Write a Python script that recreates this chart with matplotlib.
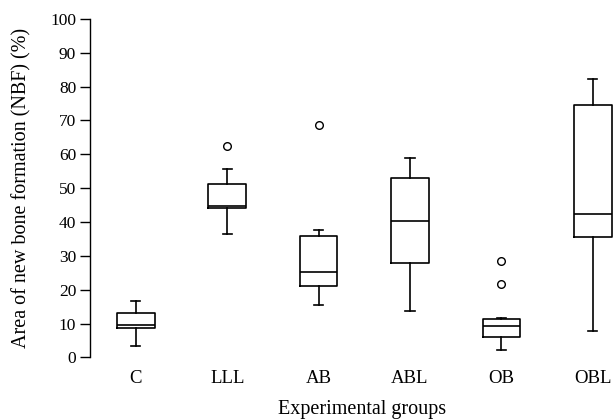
import matplotlib
matplotlib.use("Agg")
import matplotlib.pyplot as plt

# ==========================
# data
# ==========================
groups = ["C", "LLL", "AB", "ABL", "OB", "OBL"]
whislo = [3.3, 36.5, 15.4, 13.6, 2.2, 7.8]
q1 = [8.6, 44.1, 21.1, 27.8, 6.1, 35.7]
med = [9.5, 44.6, 25.2, 40.4, 9.3, 42.4]
q3 = [13.2, 51.2, 35.8, 53.0, 11.4, 74.6]
whishi = [16.6, 55.6, 37.7, 58.8, 11.7, 82.2]
fliers = [[], [62.5], [68.7], [], [28.4, 21.7], []]

plt.rcParams["font.family"] = ["Liberation Serif", "DejaVu Serif"]
plt.rcParams["font.size"] = 12.5

stats = []
for i, g in enumerate(groups):
    stats.append({
        "label": g, "whislo": whislo[i], "q1": q1[i], "med": med[i],
        "q3": q3[i], "whishi": whishi[i], "fliers": fliers[i],
    })

fig = plt.figure(figsize=(6.13, 4.2), dpi=100)
ax = fig.add_axes([0.147, 0.149, 0.853, 0.806])

lw = 1.2
ax.bxp(stats, widths=0.41, showfliers=True,
       boxprops=dict(color="black", linewidth=lw),
       medianprops=dict(color="black", linewidth=lw),
       whiskerprops=dict(color="black", linewidth=lw),
       capprops=dict(color="black", linewidth=lw),
       capwidths=0.1,
       flierprops=dict(marker="o", markerfacecolor="none",
                       markeredgecolor="black", markersize=5.5,
                       markeredgewidth=1.0))

ax.set_xlim(0.5, 6.22)
ax.set_ylim(0, 100)
ax.set_yticks(range(0, 101, 10))
for s in ["top", "right", "bottom"]:
    ax.spines[s].set_visible(False)
ax.spines["left"].set_linewidth(1.0)
ax.tick_params(axis="x", length=0, pad=9, labelsize=13.5)
ax.tick_params(axis="y", length=7, width=1.0, pad=3, labelsize=12.5)

ax.set_ylabel("Area of new bone formation (NBF) (%)", fontsize=14.5, va="center")
ax.set_xlabel("Experimental groups", fontsize=14.5, va="center")
ax.yaxis.set_label_coords(-0.131, 0.5)
ax.xaxis.set_label_coords(0.521, -0.153)

plt.savefig("out.png", dpi=100)
